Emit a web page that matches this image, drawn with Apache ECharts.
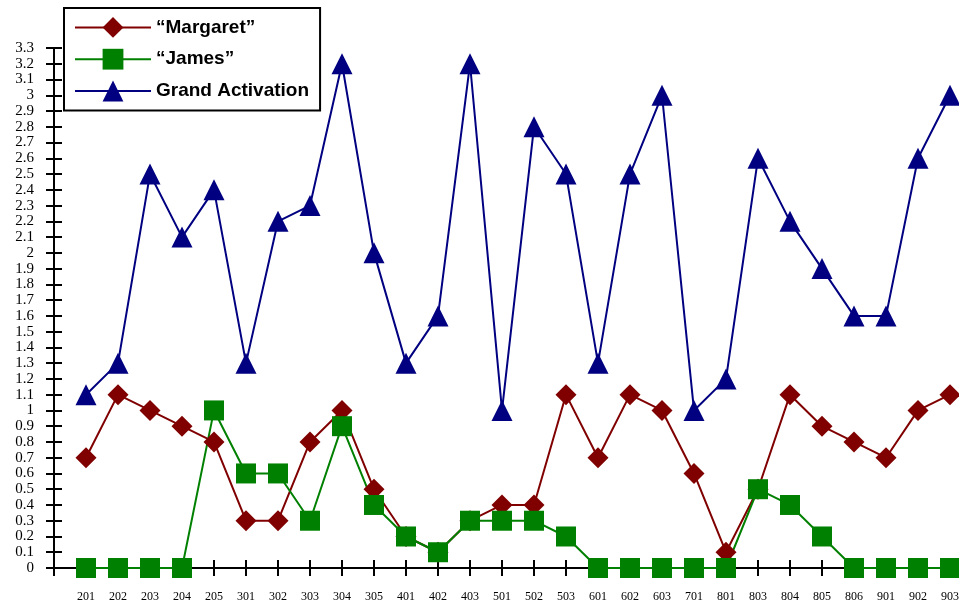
<!DOCTYPE html>
<html>
<head>
<meta charset="utf-8">
<script src="https://cdn.jsdelivr.net/npm/echarts@6/dist/echarts.min.js"></script>
<style>html,body{margin:0;padding:0;background:#fff;}#c{width:959px;height:606px;}</style>
</head>
<body>
<div id="c"></div>
<script>
const categories = ['201','202','203','204','205','301','302','303','304','305','401','402','403','501','502','503','601','602','603','701','801','803','804','805','806','901','902','903'];
const margaret = [0.7,1.1,1.0,0.9,0.8,0.3,0.3,0.8,1.0,0.5,0.2,0.1,0.3,0.4,0.4,1.1,0.7,1.1,1.0,0.6,0.1,0.5,1.1,0.9,0.8,0.7,1.0,1.1];
const james = [0,0,0,0,1.0,0.6,0.6,0.3,0.9,0.4,0.2,0.1,0.3,0.3,0.3,0.2,0,0,0,0,0,0.5,0.4,0.2,0,0,0,0];
const grand = [1.1,1.3,2.5,2.1,2.4,1.3,2.2,2.3,3.2,2.0,1.3,1.6,3.2,1.0,2.8,2.5,1.3,2.5,3.0,1.0,1.2,2.6,2.2,1.9,1.6,1.6,2.6,3.0];
const seriesNames = ['\u201CMargaret\u201D', '\u201CJames\u201D', 'Grand Activation'];

const pad = arr => [null, ...arr, null];
const axisCats = ['', ...categories, ''];

const chart = echarts.init(document.getElementById('c'), null, {renderer: 'canvas'});
const serif = 'Liberation Serif';
const yBase = {type: 'value', min: 0, max: 3.3, interval: 0.1, splitLine: {show: false}, gridIndex: 0};
const xBase = {type: 'category', data: axisCats, boundaryGap: false, gridIndex: 0, splitLine: {show: false}};
chart.setOption({
  animation: false,
  backgroundColor: '#fff',
  grid: {left: 54, width: 928, top: 48, bottom: 38, containLabel: false, outerBoundsMode: 'none'},
  legend: {
    left: 64, top: 8, orient: 'vertical',
    data: seriesNames,
    backgroundColor: '#fff', borderColor: '#000', borderWidth: 2, borderRadius: 0,
    padding: [9, 11, 9, 10],
    itemWidth: 76, itemHeight: 26, itemGap: 11,
    textStyle: {fontFamily: 'Liberation Sans', fontWeight: 'bold', fontSize: 19, color: '#000'}
  },
  xAxis: [
    Object.assign({}, xBase, {
      axisLine: {show: true, lineStyle: {color: '#000', width: 2}},
      axisTick: {show: true, inside: false, length: 8, lineStyle: {color: '#000', width: 2}},
      axisLabel: {show: true, interval: 0, margin: 23, fontFamily: serif, fontSize: 12, color: '#000'}
    }),
    Object.assign({}, xBase, {
      position: 'bottom',
      axisLine: {show: false},
      axisTick: {show: true, inside: true, length: 8, lineStyle: {color: '#000', width: 2}},
      axisLabel: {show: false}
    })
  ],
  yAxis: [
    Object.assign({}, yBase, {
      axisLine: {show: true, lineStyle: {color: '#000', width: 2}},
      axisTick: {show: true, inside: false, length: 8, lineStyle: {color: '#000', width: 2}},
      axisLabel: {show: true, margin: 20, fontFamily: serif, fontSize: 15, color: '#000'}
    }),
    Object.assign({}, yBase, {
      position: 'left',
      axisLine: {show: false},
      axisTick: {show: true, inside: true, length: 8, lineStyle: {color: '#000', width: 2}},
      axisLabel: {show: false}
    })
  ],
  series: [
    {name: seriesNames[0], type: 'line', data: pad(margaret), symbol: 'diamond', symbolSize: 21,
     itemStyle: {color: '#800000'}, lineStyle: {color: '#800000', width: 2}, xAxisIndex: 0, yAxisIndex: 0},
    {name: seriesNames[1], type: 'line', data: pad(james), symbol: 'rect', symbolSize: 20,
     itemStyle: {color: '#008000'}, lineStyle: {color: '#008000', width: 2}, xAxisIndex: 0, yAxisIndex: 0},
    {name: seriesNames[2], type: 'line', data: pad(grand), symbol: 'triangle', symbolSize: 21,
     itemStyle: {color: '#000080'}, lineStyle: {color: '#000080', width: 2}, xAxisIndex: 0, yAxisIndex: 0}
  ]
});
</script>
</body>
</html>
